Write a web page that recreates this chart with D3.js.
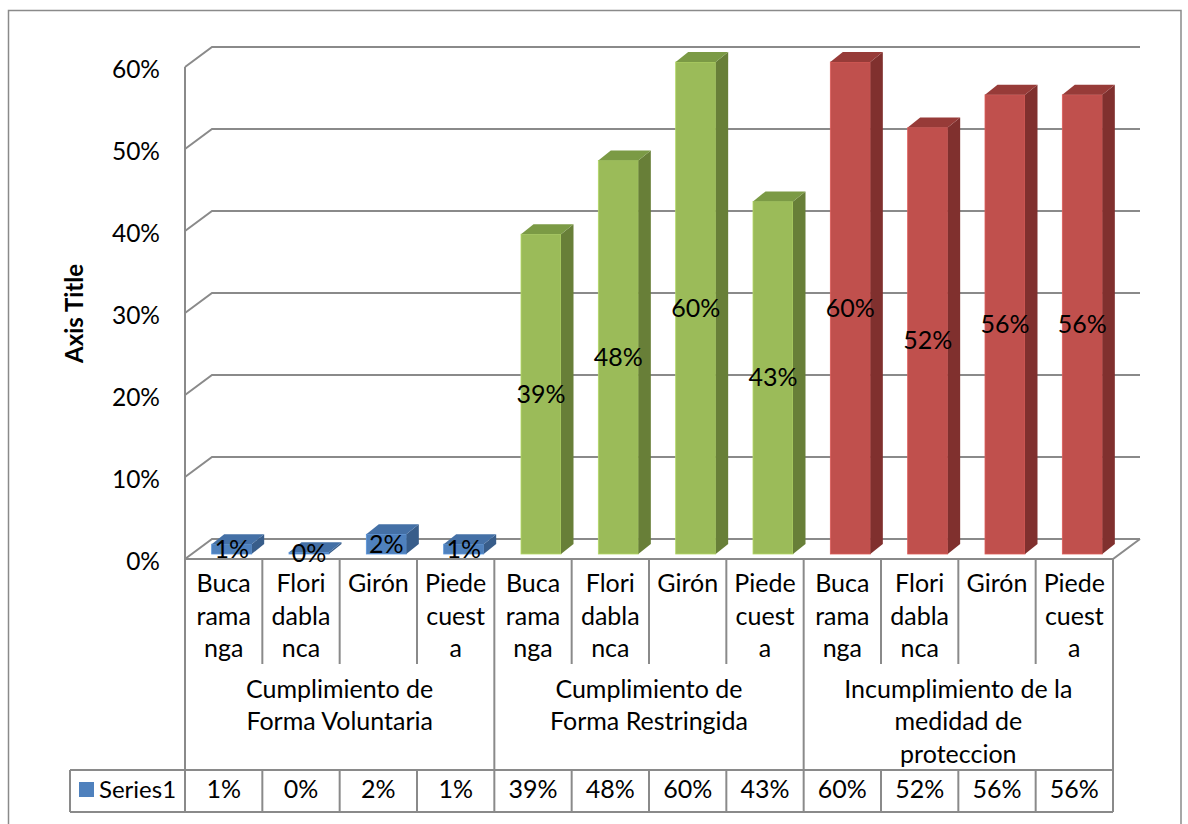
<!DOCTYPE html>
<html>
<head>
<meta charset="utf-8">
<script src="https://cdn.jsdelivr.net/npm/d3@7"></script>
<style>
  html, body { margin: 0; padding: 0; background: #fff; }
  svg { display: block; }
  text { font-family: Lato, "Open Sans", sans-serif; fill: #000; }
</style>
</head>
<body>
<svg id="chart" width="1188" height="824"></svg>
<script>
// ---------------- DATA ----------------
const categories = ["Bucaramanga", "Floridablanca", "Girón", "Piedecuesta"];
const categoryLines = [["Buca", "rama", "nga"], ["Flori", "dabla", "nca"], ["Girón"], ["Piede", "cuest", "a"]];
const groups = ["Cumplimiento de Forma Voluntaria", "Cumplimiento de Forma Restringida", "Incumplimiento de la medidad de proteccion"];
const groupLines = [["Cumplimiento de", "Forma Voluntaria"], ["Cumplimiento de", "Forma Restringida"], ["Incumplimiento de la", "medidad de", "proteccion"]];
const voluntaria = [0.012, 0.002, 0.024, 0.012];
const restringida = [0.39, 0.48, 0.60, 0.43];
const incumplimiento = [0.60, 0.52, 0.56, 0.56];
const yTicks = [0, 0.1, 0.2, 0.3, 0.4, 0.5, 0.6];
const seriesName = "Series1";
const axisTitle = "Axis Title";

// ---------------- STYLE ----------------
const groupColors = [
  { front: "#4F81BD", side: "#385D8A", top: "#4470A6" },
  { front: "#9BBB59", side: "#687F38", top: "#7B9A45" },
  { front: "#C0504D", side: "#80302E", top: "#973B38" }
];
const lineColor = "#8A8A8A";
const fontSize = 25;
const tickFontSize = 24.5;

const svg = d3.select("#chart");

const seriesByGroup = [voluntaria, restringida, incumplimiento];
const rows = [];
groups.forEach((g, gi) => categories.forEach((c, ci) => rows.push({
  key: g + "|" + c, group: g, gi, ci, cat: c, value: seriesByGroup[gi][ci]
})));

const left = 185, right = 1113;
const depthX = 27, depthY = -20;
const y = d3.scaleLinear().domain([0, 0.6]).range([559, 67]);
const x = d3.scaleBand().domain(rows.map(d => d.key)).range([left, right]).padding(0);
const gx = d3.scaleBand().domain(groups).range([left, right]).padding(0);
const fmt = d3.format(".0%");

// outer border
svg.append("rect").attr("x", 8.5).attr("y", 10.5).attr("width", 1172.5).attr("height", 830)
  .attr("fill", "none").attr("stroke", lineColor).attr("stroke-width", 1.5);

// walls / gridlines
const grid = svg.append("g").attr("stroke", lineColor).attr("stroke-width", 2).attr("fill", "none");
yTicks.forEach(t => {
  const yy = y(t);
  grid.append("path").attr("d", `M${left},${yy} L${left + depthX},${yy + depthY} L${right + depthX},${yy + depthY}`);
});
grid.append("line").attr("x1", left).attr("x2", left).attr("y1", y(0.6)).attr("y2", y(0));
// floor
grid.append("path").attr("d", `M${left},${y(0)} L${right},${y(0)} L${right + depthX},${y(0) + depthY}`);

// y tick labels
svg.append("g").selectAll("text").data(yTicks).join("text")
  .attr("x", 160).attr("y", d => y(d) + 10.5).attr("text-anchor", "end")
  .style("font-size", tickFontSize + "px").text(d => fmt(d));

// axis title
svg.append("text").attr("transform", "translate(83,313.5) rotate(-90)")
  .attr("text-anchor", "middle").style("font-size", "24px").style("font-weight", "bold").text(axisTitle);

// bars (3D)
const bw = 40, offX = 8, offY = -5, sdx = 12.5, sdy = -10;
const bars = svg.append("g");
rows.forEach(d => {
  const col = groupColors[d.gi];
  const x0 = x(d.key) + x.bandwidth() / 2 - bw / 2 + offX;
  const x1 = x0 + bw;
  const yb = y(0) + offY;
  const yt = y(d.value) + offY;
  const g = bars.append("g");
  g.append("rect").attr("x", x0).attr("y", yt).attr("width", bw).attr("height", Math.max(0, yb - yt))
    .attr("fill", col.front).attr("stroke", d3.color(col.front).brighter(0.4)).attr("stroke-width", 0.8);
  g.append("path").attr("d", `M${x1},${yt} L${x1 + sdx},${yt + sdy} L${x1 + sdx},${yb + sdy} L${x1},${yb} Z`)
    .attr("fill", col.side);
  g.append("path").attr("d", `M${x0},${yt} L${x0 + sdx},${yt + sdy} L${x1 + sdx},${yt + sdy} L${x1},${yt} Z`)
    .attr("fill", col.top);
});

// data labels
svg.append("g").selectAll("text").data(rows).join("text")
  .attr("x", d => x(d.key) + x.bandwidth() / 2 + offX)
  .attr("y", d => (y(0) + y(d.value)) / 2 + offY + 8.5)
  .attr("text-anchor", "middle").style("font-size", fontSize + "px")
  .text(d => fmt(d.value));

// data table
const tbl = svg.append("g").attr("stroke", lineColor).attr("stroke-width", 2).attr("fill", "none");
const rowTop = 770, rowBot = 812, subBot = 664;
const bounds = rows.map(d => x(d.key)).concat([right]);
bounds.forEach((bx, i) => {
  const isGroup = (i % 4 === 0);
  if (isGroup) {
    tbl.append("line").attr("x1", bx).attr("x2", bx).attr("y1", y(0)).attr("y2", rowBot);
  } else {
    tbl.append("line").attr("x1", bx).attr("x2", bx).attr("y1", y(0)).attr("y2", subBot);
    tbl.append("line").attr("x1", bx).attr("x2", bx).attr("y1", rowTop).attr("y2", rowBot);
  }
});
tbl.append("line").attr("x1", 70).attr("x2", right).attr("y1", rowTop).attr("y2", rowTop);
tbl.append("line").attr("x1", 70).attr("x2", right).attr("y1", rowBot).attr("y2", rowBot);
tbl.append("line").attr("x1", 70).attr("x2", 70).attr("y1", rowTop).attr("y2", rowBot);

// category labels
const catG = svg.append("g");
rows.forEach(d => {
  const lines = categoryLines[d.ci];
  lines.forEach((ln, li) => {
    catG.append("text").attr("x", x(d.key) + x.bandwidth() / 2).attr("y", 592 + li * 32.5)
      .attr("text-anchor", "middle").style("font-size", fontSize + "px").text(ln);
  });
});

// group labels
const grpG = svg.append("g");
groups.forEach((g, gi) => {
  groupLines[gi].forEach((ln, li) => {
    grpG.append("text").attr("x", gx(g) + gx.bandwidth() / 2).attr("y", 697.5 + li * 32.5)
      .attr("text-anchor", "middle").style("font-size", fontSize + "px").text(ln);
  });
});

// value row
svg.append("g").selectAll("text").data(rows).join("text")
  .attr("x", d => x(d.key) + x.bandwidth() / 2).attr("y", 797.5)
  .attr("text-anchor", "middle").style("font-size", fontSize + "px").text(d => fmt(d.value));

// legend key
svg.append("rect").attr("x", 79).attr("y", 782).attr("width", 15).attr("height", 15).attr("fill", groupColors[0].front);
svg.append("text").attr("x", 99).attr("y", 797.5).style("font-size", "24px").text(seriesName);
</script>
</body>
</html>
